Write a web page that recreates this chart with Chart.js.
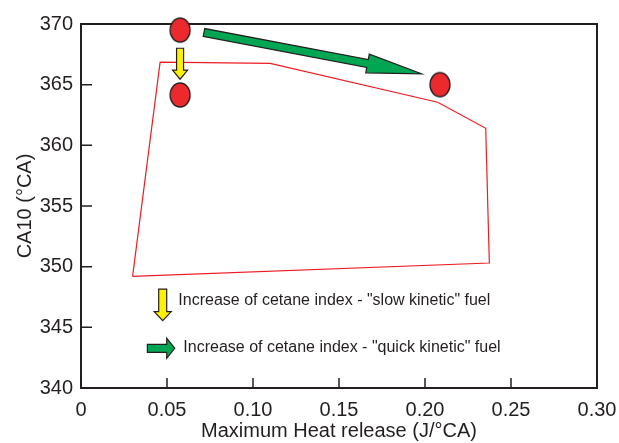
<!DOCTYPE html>
<html><head><meta charset="utf-8">
<script src="https://cdn.jsdelivr.net/npm/chart.js@4"></script>
<style>html,body{margin:0;padding:0;background:#fff;}</style>
</head><body>
<canvas id="c" width="619" height="443"></canvas>
<script>
// ---- data ----
const envelopeX = [0.030, 0.046, 0.110, 0.2074, 0.2353, 0.2374, 0.030];
const envelopeY = [349.2, 366.85, 366.75, 363.55, 361.4, 350.3, 349.2];
const fuelX = [0.0576, 0.0576, 0.2087];
const fuelY = [369.5, 364.15, 365.0];
const slowArrowX = [0.0576, 0.0576];
const slowArrowY = [368.0, 365.45];
const quickArrowX = [0.0715, 0.198];
const quickArrowY = [369.3, 365.9];
const xTickValues = [0, 0.05, 0.10, 0.15, 0.20, 0.25, 0.30];
const xTickLabels = ['0', '0.05', '0.10', '0.15', '0.20', '0.25', '0.30'];
const yTickValues = [340, 345, 350, 355, 360, 365, 370];
const legendLabels = ['Increase of cetane index - "slow kinetic" fuel', 'Increase of cetane index - "quick kinetic" fuel'];

const INK = '#231f20';
const FONT = "'Liberation Sans', Arial, Helvetica, sans-serif";
Chart.defaults.font.family = FONT;
Chart.defaults.color = INK;

function ellipseCanvas() {
  const c = document.createElement('canvas');
  c.width = 24; c.height = 28;
  const g = c.getContext('2d');
  g.beginPath();
  g.ellipse(12, 14, 10, 12, 0, 0, Math.PI * 2);
  g.fillStyle = '#ec2a2d';
  g.fill();
  g.lineWidth = 1.3;
  g.strokeStyle = INK;
  g.stroke();
  return c;
}

function drawArrow(ctx, x1, y1, x2, y2, sw, hw, hl, fill) {
  const dx = x2 - x1, dy = y2 - y1;
  const L = Math.hypot(dx, dy);
  const ux = dx / L, uy = dy / L;
  const nx = -uy, ny = ux;
  const bx = x2 - ux * hl, by = y2 - uy * hl;
  ctx.beginPath();
  ctx.moveTo(x1 + nx * sw / 2, y1 + ny * sw / 2);
  ctx.lineTo(bx + nx * sw / 2, by + ny * sw / 2);
  ctx.lineTo(bx + nx * hw / 2, by + ny * hw / 2);
  ctx.lineTo(x2, y2);
  ctx.lineTo(bx - nx * hw / 2, by - ny * hw / 2);
  ctx.lineTo(bx - nx * sw / 2, by - ny * sw / 2);
  ctx.lineTo(x1 - nx * sw / 2, y1 - ny * sw / 2);
  ctx.closePath();
  ctx.fillStyle = fill;
  ctx.fill();
  ctx.lineWidth = 1.2;
  ctx.strokeStyle = INK;
  ctx.lineJoin = 'miter';
  ctx.stroke();
}

const annotationPlugin = {
  id: 'annot',
  beforeDatasetsDraw(chart) {
    const ctx = chart.ctx, xs = chart.scales.x, ys = chart.scales.y;
    const {left, right, top, bottom} = chart.chartArea;
    ctx.save();
    ctx.strokeStyle = INK;
    ctx.lineWidth = 2;
    ctx.strokeRect(left, top, right - left, bottom - top);
    ctx.lineWidth = 1.5;
    ctx.beginPath();
    ys.ticks.forEach(t => { const y = ys.getPixelForValue(t.value); ctx.moveTo(left, y); ctx.lineTo(left + 11, y); });
    xs.ticks.forEach(t => { const x = xs.getPixelForValue(t.value); ctx.moveTo(x, bottom); ctx.lineTo(x, bottom - 10); });
    ctx.stroke();
    ctx.restore();
  },
  afterDatasetsDraw(chart) {
    const ctx = chart.ctx, xs = chart.scales.x, ys = chart.scales.y;
    const px = v => xs.getPixelForValue(v), py = v => ys.getPixelForValue(v);
    ctx.save();
    drawArrow(ctx, px(slowArrowX[0]), py(slowArrowY[0]), px(slowArrowX[1]), py(slowArrowY[1]), 7, 15, 9, '#fff200');
    drawArrow(ctx, px(quickArrowX[0]), py(quickArrowY[0]), px(quickArrowX[1]), py(quickArrowY[1]), 8, 19, 55, '#00a651');
    // in-plot legend
    drawArrow(ctx, px(0.0475), py(348.15), px(0.0475), py(345.55), 8, 17, 9, '#fff200');
    drawArrow(ctx, px(0.0386), py(343.27), px(0.0545), py(343.27), 8, 20, 8, '#00a651');
    ctx.fillStyle = INK;
    ctx.font = '16px ' + FONT;
    ctx.textBaseline = 'middle';
    ctx.textAlign = 'left';
    ctx.fillText(legendLabels[0], px(0.0566), py(347.17));
    ctx.fillText(legendLabels[1], px(0.0595), py(343.3));
    ctx.restore();
  }
};

new Chart(document.getElementById('c'), {
  type: 'scatter',
  data: {
    datasets: [
      {
        data: envelopeX.map((x, i) => ({x, y: envelopeY[i]})),
        showLine: true, borderColor: '#ed1c24', borderWidth: 1.2,
        pointRadius: 0, fill: false, tension: 0
      },
      {
        data: fuelX.map((x, i) => ({x, y: fuelY[i]})),
        showLine: false, pointStyle: ellipseCanvas(), pointRadius: 12, clip: false
      }
    ]
  },
  options: {
    responsive: false, animation: false, devicePixelRatio: 1,
    layout: {padding: {left: 0, right: 22, top: 24, bottom: 0}},
    plugins: {legend: {display: false}, tooltip: {enabled: false}},
    scales: {
      x: {
        type: 'linear', min: 0, max: 0.3,
        afterBuildTicks: s => { s.ticks = xTickValues.map(v => ({value: v})); },
        ticks: {callback: (v, i) => xTickLabels[i], font: {size: 20}, color: INK, padding: 10, maxRotation: 0, autoSkip: false},
        grid: {display: false, drawTicks: false},
        border: {display: false},
        title: {display: true, text: 'Maximum Heat release (J/°CA)', font: {size: 20}, color: INK, padding: {top: 0, bottom: 0}},
        afterFit: s => { s.height = 55; s.paddingLeft = 0; s.paddingRight = 0; }
      },
      y: {
        type: 'linear', min: 340, max: 370,
        afterBuildTicks: s => { s.ticks = yTickValues.map(v => ({value: v})); },
        ticks: {font: {size: 20}, color: INK, padding: 8, autoSkip: false},
        grid: {display: false, drawTicks: false},
        border: {display: false},
        title: {display: true, text: 'CA10 (°CA)', font: {size: 20}, color: INK, padding: {top: 13, bottom: 0}},
        afterFit: s => { s.width = 81; s.paddingTop = 0; s.paddingBottom = 0; }
      }
    }
  },
  plugins: [annotationPlugin]
});
</script>
</body></html>
